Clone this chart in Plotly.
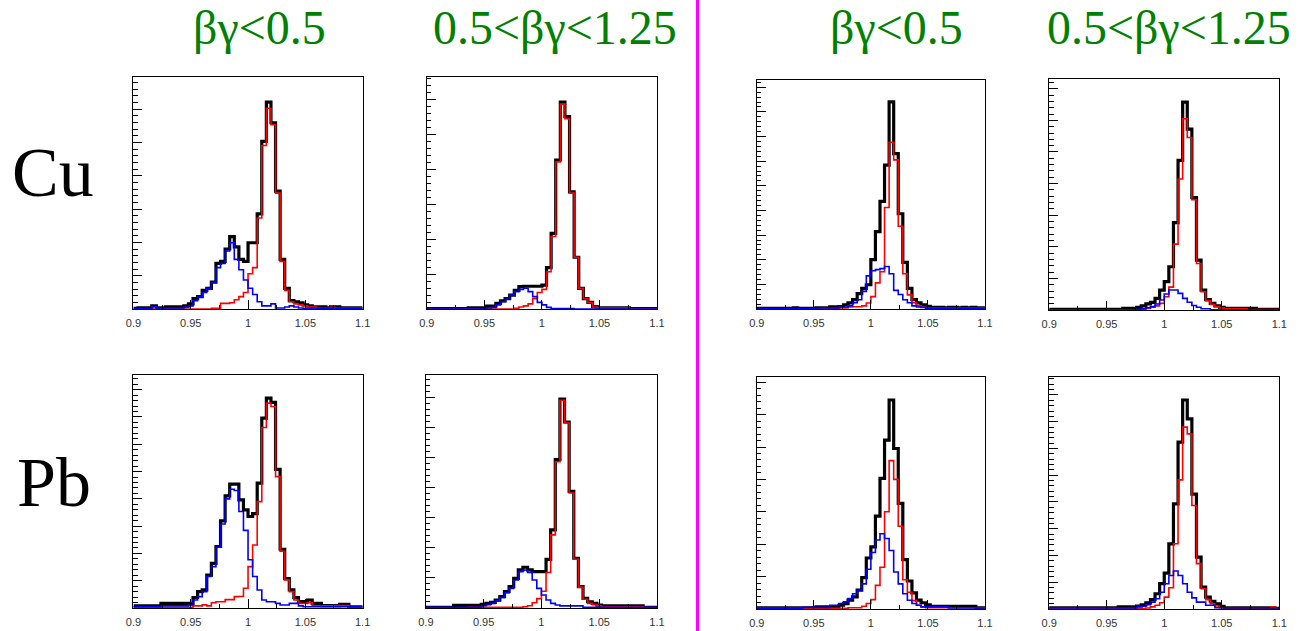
import numpy as np
import plotly.graph_objects as go

# ---------------- data ----------------
x_min, x_max, n_bins = 0.9, 1.1, 50
bin_edges = np.linspace(x_min, x_max, n_bins + 1)

x_tick_vals = [0.9, 0.95, 1.0, 1.05, 1.1]
x_tick_text = ["0.9", "0.95", "1", "1.05", "1.1"]

column_titles = ["βγ<0.5", "0.5<βγ<1.25", "βγ<0.5", "0.5<βγ<1.25"]
row_labels = ["Cu", "Pb"]

# Cu, left half, beta*gamma < 0.5
cu1_black = [0.3, 0.5, 0.5, 0.5, 1.5, 0.5, 0.5, 1, 1, 1, 1, 1.5, 2.5, 5, 6, 9, 10, 13, 22, 23,
             29, 35, 30, 24, 23, 32, 32, 46, 81, 100, 90, 57, 24, 10, 4, 3.5, 3, 2, 1.5, 1,
             1, 1, 0.5, 1, 1, 0.5, 0.5, 0.5, 0.5, 0.5]
cu1_red = [0, 0, 0, 0, 0, 0, 0, 0, 0, 0, 0, 0, 0, 0, 0, 0, 0, 0.3, 0.3, 2.7,
           2.7, 3, 4.5, 6, 8, 17, 20, 44, 79, 97, 89, 56, 23, 9, 3.5, 2.5, 2, 1.5, 1, 1,
           0.5, 0.5, 0.5, 0.8, 0.5, 0.5, 0.5, 0.5, 0.5, 0.5]
cu1_blue = [0.3, 0.3, 0.3, 0.3, 1.2, 0.3, 0.5, 0.5, 0.5, 0.5, 0.5, 1, 1.5, 4, 6, 8, 10, 13, 20, 22,
            28, 32, 24, 19, 14, 10, 7, 3.5, 1.5, 1.5, 2.5, 0.5, 0.5, 1, 1.5, 1, 0.5, 0.3, 0.3, 0.3,
            0.3, 0.3, 0.3, 0.3, 0.3, 0.3, 0.3, 0.3, 0.3, 0.3]

# Cu, left half, 0.5 < beta*gamma < 1.25
cu2_black = [0.2, 0.2, 0.2, 0.2, 0.2, 0.2, 0.2, 0.2, 0.2, 0.6, 0.6, 0.6, 0.6, 1.4, 1.4, 2.7, 3.9, 5, 6.7, 9,
             10.8, 11, 11, 11, 11, 11.5, 20, 36.5, 72, 100, 93, 56.6, 25, 10, 5, 3.2, 1.1, 0.6, 0.6, 0.6,
             0.6, 0.6, 0.6, 0.6, 0.2, 0.2, 0.2, 0.2, 0.2, 0.2]
cu2_red = [0, 0, 0, 0, 0, 0, 0, 0, 0, 0, 0, 0, 0, 0, 0, 0, 0, 0, 0, 0.3,
           1, 1.5, 2.5, 5, 8, 9.5, 18, 35, 71, 99, 92, 56, 25, 10, 5, 3, 1, 0.5, 0.5, 0.5,
           0.5, 0.5, 0.5, 0.5, 0.1, 0.1, 0.1, 0.1, 0.1, 0.1]
cu2_blue = [0, 0, 0, 0, 0, 0, 0, 0, 0, 0, 0, 0, 0.2, 0.5, 0.8, 2, 3.5, 4.7, 6.7, 8.4,
            9.5, 10, 8.4, 6, 3.2, 2, 0.8, 0.2, 0.2, 0.2, 0.2, 0.2, 0, 0, 0, 0, 0, 0, 0, 0,
            0, 0, 0, 0, 0, 0, 0, 0, 0, 0]

# Cu, right half, beta*gamma < 0.5
cu3_black = [0.3, 0.3, 0.3, 0.3, 0.3, 0.3, 0.3, 0.3, 0.6, 0.3, 0.3, 0.3, 0.3, 0.6, 0.6, 0.6, 1, 1, 1.2, 2,
             3, 4.5, 7.4, 10, 11.7, 23.8, 37.4, 52, 69.5, 100, 75, 46, 22.5, 10, 4.5, 3, 2, 1.3, 0.8, 0.8,
             0.8, 0.5, 0.8, 0.8, 0.5, 0.8, 0.5, 0.8, 0.5, 0.5]
cu3_red = [0, 0, 0, 0, 0, 0, 0, 0, 0, 0, 0, 0, 0, 0, 0.2, 0.2, 0.2, 0.2, 0.5, 0.5,
           1, 1.1, 1.1, 1.5, 2.9, 6, 12.6, 18, 49, 80.5, 72, 40, 17, 6.8, 3, 1.5, 1, 0.5, 0.5, 0.5,
           0.5, 0.5, 0.5, 0.5, 0.5, 0.5, 0.5, 0.5, 0.5, 0.5]
cu3_blue = [0.2, 0.2, 0.2, 0.2, 0.2, 0.2, 0.2, 0.2, 0.2, 0.2, 0.2, 0.2, 0.2, 0.5, 0.5, 0.5, 0.5, 0.5, 1, 1,
            1.5, 3, 4.5, 8.5, 16, 18.5, 19, 19.5, 20.5, 17, 9, 7, 4.5, 3, 1.5, 1, 0.8, 0.3, 0.3, 0.3,
            0.3, 0.3, 0.3, 0.3, 0.3, 0.3, 0.3, 0.3, 0.3, 0.3]

# Cu, right half, 0.5 < beta*gamma < 1.25
cu4_black = [0.3, 0.3, 0.3, 0.3, 0.3, 0.3, 0.3, 0.3, 0.3, 0.3, 0.3, 0.3, 0.3, 0.3, 0.3, 0.3, 0.8, 0.8, 0.8, 1.3,
             2, 2.9, 3.7, 5.6, 9.6, 13.6, 20.8, 42, 72, 100, 87, 54, 24, 9.6, 5, 3.2, 2, 1.3, 0.8, 0.8,
             0.8, 0.8, 0.8, 0.8, 0.8, 0.3, 0.3, 0.3, 0.3, 0.3]
cu4_red = [0, 0, 0, 0, 0, 0, 0, 0, 0, 0, 0, 0, 0, 0, 0, 0, 0, 0, 0, 0,
           0.3, 0.8, 1.3, 2, 3.2, 6.4, 11, 31.7, 63, 92, 83, 53, 22.4, 8.8, 4.5, 2.7, 1.6, 1, 0.6, 0.6,
           0.6, 0.6, 0.6, 0.2, 0.2, 0.2, 0.2, 0.2, 0.2, 0.2]
cu4_blue = [0, 0, 0, 0, 0, 0, 0, 0, 0, 0, 0, 0, 0, 0, 0, 0, 0, 0, 0, 0.3,
            0.6, 1.1, 1.6, 2.9, 4.8, 7.7, 9.6, 9.6, 8, 5.6, 3.7, 2.2, 1.3, 0.6, 0.6, 0.1, 0.1, 0.1, 0.1, 0.1,
            0.1, 0.1, 0.1, 0.1, 0.1, 0.1, 0.1, 0.1, 0.1, 0.1]

# Pb, left half, beta*gamma < 0.5
pb1_black = [1, 1, 1, 1, 1, 1, 2.2, 2.2, 2.2, 2.2, 2.2, 2.2, 2, 5, 7.8, 8.6, 15.7, 21.3, 29.3, 41.5,
             53.4, 59, 59, 51.5, 46.7, 43.6, 45, 59.5, 90.5, 100, 98, 66, 28, 14, 8.6, 4.9, 3, 3, 3.8, 2.2,
             2.2, 1.1, 1.1, 1.1, 1.1, 1.7, 1.7, 0.6, 0.6, 0.6]
pb1_red = [0.3, 0.3, 0.3, 0.3, 0.3, 0.3, 0.3, 0.3, 0.3, 0.3, 0.3, 0.3, 0.3, 1, 1, 1.5, 1, 2.5, 3, 3,
           4, 4, 5.4, 5.5, 9.4, 19.7, 30, 50.7, 86, 97.6, 96, 62.6, 27, 13.4, 7.8, 3.8, 2.2, 2.2, 2.5, 1,
           1, 1, 1, 1, 1.2, 1.2, 1.2, 0.5, 0.5, 0.5]
pb1_blue = [0.6, 0.6, 0.6, 0.6, 0.6, 0.6, 1, 1, 1, 1, 1, 1, 1.4, 3.8, 5.4, 7.8, 15, 19.7, 29, 40,
            52, 56.6, 56, 46, 37, 23, 15, 8.6, 3.8, 3, 3, 2.2, 1.4, 1.4, 2.2, 2.2, 1, 0.6, 0.6, 0.6,
            0.6, 0.6, 0.6, 0.6, 0.6, 0.6, 0.6, 0.6, 0.6, 0.6]

# Pb, left half, 0.5 < beta*gamma < 1.25
pb2_black = [0.3, 0.3, 0.3, 0.3, 0.3, 0.3, 1.3, 1.3, 1.3, 1.3, 1.3, 1.3, 1.8, 2.2, 2.7, 3.8, 5.4, 7.8, 10.2, 14.2,
             18.2, 19.5, 18.2, 17.4, 17.4, 17.4, 23.3, 37.4, 71, 100, 89, 55.8, 23.8, 10.2, 4.6, 3, 2.2, 1.4, 1, 1,
             1, 1, 1, 1, 1, 1, 1, 0.3, 0.3, 0.3]
pb2_red = [0, 0, 0, 0, 0, 0, 0, 0, 0, 0.3, 0.3, 0.3, 0.3, 0.3, 0.3, 0.3, 0.3, 0.3, 0.3, 0.3,
           0.3, 0.6, 1.1, 2.5, 4.5, 8, 17, 35, 70, 99.4, 88.5, 55, 23.3, 10, 4.2, 2.2, 1.6, 1.1, 0.6, 0.6,
           0.6, 0.6, 0.6, 0.6, 0.6, 0.6, 0.6, 0.2, 0.2, 0.2]
pb2_blue = [0.3, 0.3, 0.3, 0.3, 0.3, 0.3, 0.3, 0.3, 0.3, 0.3, 0.3, 0.3, 1.1, 1.6, 2.2, 3.5, 5.1, 7.3, 9.4, 13.4,
            17.4, 18.2, 17, 13.4, 9.4, 6.2, 3.8, 2.2, 1.4, 1, 1, 1, 1, 1, 0.3, 0.3, 0.3, 0.3, 0.3, 0.3,
            0.3, 0.3, 0.3, 0.3, 0.3, 0.3, 0.3, 0.3, 0.3, 0.3]

# Pb, right half, beta*gamma < 0.5
pb3_black = [0.5, 0.5, 0.5, 0.5, 0.5, 0.5, 0.5, 0.5, 0.5, 0.5, 0.5, 0.5, 0.5, 1, 1, 1, 1, 1, 1.8, 2.6,
             4.2, 5.8, 9, 15, 24.4, 29.7, 44.4, 62.5, 80.8, 100, 76.8, 50.5, 23.6, 13.4, 7.7, 4.2, 3, 2, 1.3, 1.3,
             1.3, 1.3, 1.3, 1.3, 1.3, 1.3, 1.3, 1.3, 0.6, 0.6]
pb3_red = [0.3, 0.3, 0.3, 0.3, 0.3, 0.3, 0.3, 0.3, 0.3, 0.3, 0.3, 0.3, 0.3, 0.3, 0.3, 0.3, 0.3, 0.3, 0.3, 0.3,
           0.6, 0.6, 0.6, 1.3, 2.6, 4.5, 11.3, 20, 46.5, 71, 62, 39.6, 14, 8, 4, 1.8, 1, 0.6, 0.6, 0.6,
           0.6, 0.6, 0.6, 0.6, 0.6, 0.6, 0.6, 0.6, 0.6, 0.6]
pb3_blue = [0.3, 0.3, 0.3, 0.3, 0.3, 0.3, 0.3, 0.3, 0.3, 0.3, 0.8, 0.8, 0.8, 0.8, 0.8, 0.8, 1.8, 1.8, 2.6, 3.4,
            5, 7.3, 9, 12, 19, 27, 33, 36, 33.7, 28, 17.7, 12, 7.3, 4.2, 2.6, 1.8, 1, 1, 1, 1,
            1, 1, 0.5, 0.5, 0.5, 0.5, 0.5, 0.5, 0.5, 0.5]

# Pb, right half, 0.5 < beta*gamma < 1.25
pb4_black = [0.5, 0.5, 0.5, 0.5, 0.5, 0.5, 0.5, 0.5, 0.5, 0.5, 0.5, 0.5, 0.5, 0.5, 0.5, 1, 1, 1, 1, 1.4,
             2, 2.9, 4.5, 7.3, 12.1, 17.2, 31.2, 50.3, 79.8, 100, 91, 55, 24.8, 10.5, 5.7, 3.7, 2.5, 1.3, 0.6, 0.6,
             0.6, 0.6, 0.6, 0.6, 0.6, 0.6, 0.6, 0.6, 0.6, 0.3]
pb4_red = [0.2, 0.2, 0.2, 0.2, 0.2, 0.2, 0.2, 0.2, 0.2, 0.2, 0.2, 0.2, 0.2, 0.2, 0.2, 0.2, 0.2, 0.2, 0.2, 0.2,
           0.2, 0.5, 1, 1.8, 3, 5.7, 10.2, 31.2, 61.8, 87, 83.8, 49.5, 21.7, 9.7, 4.5, 2.5, 1.4, 0.6, 0.6, 0.6,
           0.6, 0.6, 0.6, 0.6, 0.6, 0.6, 0.6, 0.6, 1, 0.6]
pb4_blue = [0.5, 0.5, 0.5, 0.5, 0.5, 0.5, 0.5, 0.5, 0.5, 0.5, 0.5, 0.5, 0.5, 0.5, 0.5, 0.5, 0.5, 0.5, 0.5, 1.3,
            1.3, 2, 3.3, 4.9, 8, 12.1, 16, 18.2, 16, 12.1, 8, 5.3, 3.3, 3.3, 1.8, 1.8, 0.6, 0.6, 0.6, 0.6,
            0.6, 0.6, 0.6, 0.6, 0.6, 0.6, 0.6, 0.6, 0.6, 0.6]

panels_data = [
    (cu1_black, cu1_red, cu1_blue), (cu2_black, cu2_red, cu2_blue),
    (cu3_black, cu3_red, cu3_blue), (cu4_black, cu4_red, cu4_blue),
    (pb1_black, pb1_red, pb1_blue), (pb2_black, pb2_red, pb2_blue),
    (pb3_black, pb3_red, pb3_blue), (pb4_black, pb4_red, pb4_blue),
]

# ---------------- layout geometry (pixels) ----------------
W, H = 1314, 631
# (left, right, top, bottom) of each frame in pixels
frames = [
    (127, 359, 77, 309), (424, 657, 77, 309), (758, 989, 80, 309), (1054, 1287, 79, 310),
    (127, 359, 375, 608), (423, 657, 375, 608), (758, 989, 377, 609), (1054, 1287, 377, 609),
]
y_tops = [112.1, 112.1, 110.6, 111.1, 111.0, 111.5, 111.0, 111.0]
y_major = [16.1, 16.9, 11.9, 15.2, 13.0, 14.4, 15.5, 12.8]

fig = go.Figure()
layout = dict(
    width=W, height=H, margin=dict(l=0, r=0, t=0, b=0),
    paper_bgcolor="white", plot_bgcolor="white", showlegend=False,
)

step_x = list(bin_edges)
for i, (black, red, blue) in enumerate(panels_data):
    n = i + 1
    xa = "x" if n == 1 else f"x{n}"
    ya = "y" if n == 1 else f"y{n}"
    for vals, col, w in ((black, "black", 3.2), (red, "#ff0000", 1.6), (blue, "#0000ff", 1.6)):
        fig.add_trace(go.Scatter(
            x=step_x, y=list(vals) + [vals[-1]], mode="lines",
            line=dict(color=col, width=w, shape="hv"),
            xaxis=xa, yaxis=ya, hoverinfo="skip",
        ))
    l, r, t, b = frames[i]
    xkey = "xaxis" if n == 1 else f"xaxis{n}"
    ykey = "yaxis" if n == 1 else f"yaxis{n}"
    layout[xkey] = dict(
        domain=[l / W, r / W], anchor=ya, range=[x_min, x_max],
        showline=True, mirror=True, linecolor="black", linewidth=1,
        showgrid=False, zeroline=False,
        tickmode="array", tickvals=x_tick_vals, ticktext=x_tick_text,
        ticks="inside", ticklen=9, tickwidth=1, tickcolor="black",
        minor=dict(ticks="inside", ticklen=4, dtick=0.025, tick0=0.9, tickcolor="black", showgrid=False),
        tickfont=dict(family="Liberation Sans, Arial, sans-serif", size=11, color="#333333"),
        ticklabelstandoff=4,
    )
    layout[ykey] = dict(
        domain=[1 - b / H, 1 - t / H], anchor=xa, range=[0, y_tops[i]],
        showline=True, mirror=True, linecolor="black", linewidth=1,
        showgrid=False, zeroline=False, showticklabels=False,
        ticks="inside", ticklen=9, tickwidth=1, tickcolor="black",
        tick0=0, dtick=y_major[i],
        minor=dict(ticks="inside", ticklen=4.5, tick0=0, dtick=y_major[i] / 5, tickcolor="black", showgrid=False),
    )

annotations = []
title_x_px = [255, 554, 899, 1175]
for txt, xp in zip(column_titles, title_x_px):
    annotations.append(dict(
        text=txt, x=xp / W, y=1 - 28 / H, xref="paper", yref="paper",
        xanchor="center", yanchor="middle", showarrow=False,
        font=dict(family="Liberation Serif, Times New Roman, serif", size=48, color="rgb(0,128,0)"),
    ))
for txt, (xp, yp) in zip(row_labels, [(46, 172), (47, 482)]):
    annotations.append(dict(
        text=txt, x=xp / W, y=1 - yp / H, xref="paper", yref="paper",
        xanchor="center", yanchor="middle", showarrow=False,
        font=dict(family="Liberation Serif, Times New Roman, serif", size=70, color="black"),
    ))
layout["annotations"] = annotations
layout["shapes"] = [dict(
    type="line", xref="paper", yref="paper", x0=698 / W, x1=698 / W, y0=0, y1=1,
    line=dict(color="#ff00ff", width=3),
)]

fig.update_layout(**layout)
fig.write_html("out.html")
